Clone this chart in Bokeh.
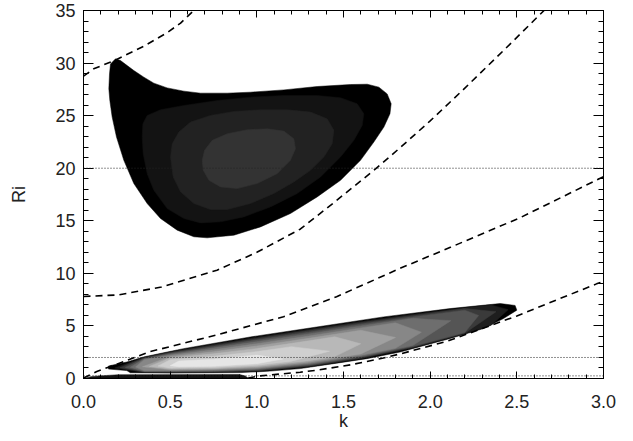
from bokeh.plotting import figure
from bokeh.models import Range1d, LinearAxis, SingleIntervalTicker, NumeralTickFormatter, Span
from bokeh.embed import file_html
from bokeh.resources import INLINE

# ---------------- data ----------------
K_RANGE = [0.0, 3.0]
RI_RANGE = [0.0, 35.0]

# dashed curves (k, Ri)
CURVE_A_K = [0.0, 0.059, 0.185, 0.348, 0.483, 0.56, 0.636, 0.70]
CURVE_A_RI = [28.75, 29.45, 30.3, 31.6, 32.9, 33.8, 35.0, 36.2]
CURVE_B_K = [0.0, 0.2, 0.45, 0.77, 1.0, 1.25, 1.45, 1.69, 1.83, 2.0, 2.18, 2.43, 2.62, 2.7]
CURVE_B_RI = [7.8, 7.95, 8.7, 10.3, 12.0, 14.2, 16.8, 20.0, 22.0, 24.5, 27.3, 31.3, 34.4, 35.7]
CURVE_C_K = [0.0, 0.077, 0.385, 0.77, 1.154, 1.46, 1.83, 2.12, 2.52, 3.0]
CURVE_C_RI = [0.05, 0.66, 2.56, 4.15, 5.88, 7.78, 10.5, 12.5, 15.3, 19.2]
CURVE_D_K = [0.95, 1.02, 1.25, 1.35, 1.54, 1.73, 1.83, 2.1, 2.5, 2.96, 3.0]
CURVE_D_RI = [0.05, 0.25, 0.6, 0.8, 1.3, 1.95, 2.35, 3.55, 5.95, 9.0, 9.25]

# dotted reference levels of Ri
DOTTED_RI = [20.0, 2.0, 0.25]

# upper island: filled contour levels, outer to inner
UPPER_COLORS = ["#000000", "#131313", "#222222", "#333333"]
UPPER_LEVELS = [
    [(0.1847, 30.40), (0.2135, 30.24), (0.252, 29.76), (0.2904, 29.29), (0.3481, 28.66),
     (0.4058, 28.09), (0.4828, 27.64), (0.579, 27.33), (0.675, 27.14), (0.829, 27.14),
     (0.9636, 27.23), (1.156, 27.45), (1.348, 27.77), (1.541, 27.96), (1.637, 27.99),
     (1.704, 27.71), (1.752, 27.07), (1.775, 26.13), (1.768, 25.18), (1.733, 23.91),
     (1.675, 22.49), (1.598, 20.75), (1.483, 18.85), (1.348, 17.27), (1.194, 15.69),
     (1.021, 14.42), (0.8675, 13.63), (0.7136, 13.38), (0.6367, 13.48), (0.5405, 14.11),
     (0.4443, 15.22), (0.3674, 16.64), (0.2904, 18.54), (0.2327, 20.75), (0.1904, 22.96),
     (0.1654, 24.86), (0.1519, 26.44), (0.1462, 27.55), (0.150, 28.97), (0.1558, 29.92)],
    [(0.3385, 22.96), (0.3424, 24.23), (0.3674, 25.02), (0.4443, 25.56), (0.579, 25.97),
     (0.7713, 26.44), (0.9636, 26.76), (1.156, 26.92), (1.348, 26.92), (1.483, 26.70),
     (1.579, 26.13), (1.6176, 25.18), (1.608, 24.07), (1.560, 22.65), (1.483, 21.07),
     (1.3676, 19.17), (1.233, 17.59), (1.079, 16.32), (0.9252, 15.37), (0.7905, 14.90),
     (0.675, 14.80), (0.579, 15.22), (0.4828, 16.16), (0.4058, 17.90), (0.3674, 19.48),
     (0.3443, 21.38)],
    [(0.502, 21.07), (0.5116, 22.33), (0.5501, 23.44), (0.6174, 24.39), (0.7328, 25.02),
     (0.8675, 25.40), (1.021, 25.56), (1.175, 25.56), (1.31, 25.34), (1.406, 24.70),
     (1.4445, 23.60), (1.435, 22.33), (1.387, 21.07), (1.31, 19.80), (1.2137, 18.69),
     (1.098, 17.59), (0.9636, 16.64), (0.829, 16.07), (0.7328, 16.07), (0.6367, 16.64),
     (0.5597, 17.75), (0.5174, 19.17)],
    [(0.6848, 20.75), (0.6982, 21.70), (0.7425, 22.65), (0.829, 23.28), (0.9444, 23.66),
     (1.060, 23.75), (1.156, 23.53), (1.2137, 22.81), (1.2233, 21.86), (1.194, 20.75),
     (1.1175, 19.48), (1.002, 18.54), (0.8867, 18.06), (0.7905, 18.22), (0.7232, 18.85),
     (0.6905, 19.80)],
]

# lower band: filled contour levels, outer to inner
LOWER_COLORS = ["#000000", "#1e1e1e", "#3a3a3a", "#555555", "#6e6e6e", "#878787",
                "#a0a0a0", "#b8b8b8", "#cfcfcf", "#e6e6e6"]
LOWER_LEVELS = [
    [(0.144, 1.19), (0.25, 1.57), (0.346, 2.05), (0.577, 2.84), (0.962, 3.95), (1.346, 4.9),
     (1.731, 5.86), (2.115, 6.65), (2.404, 7.13), (2.49, 6.95), (2.5, 6.5), (2.423, 5.7),
     (2.308, 4.75), (2.115, 3.8), (1.827, 2.52), (1.635, 1.89), (1.442, 1.41), (1.25, 0.94),
     (1.058, 0.68), (0.904, 0.56), (0.5, 0.52), (0.27, 0.55), (0.25, 0.75), (0.144, 0.9)],
    [(0.18, 1.0), (0.35, 2.01), (0.5, 2.54), (0.75, 3.25), (1.0, 3.93), (1.3, 4.68), (1.6, 5.43),
     (1.9, 6.1), (2.2, 6.73), (2.35, 7.0), (2.45, 6.55), (2.35, 5.05), (2.2, 4.26), (1.9, 2.91),
     (1.6, 1.87), (1.3, 1.12), (1.0, 0.69), (0.75, 0.59), (0.5, 0.56), (0.35, 0.58)],
    [(0.21, 1.02), (0.35, 1.97), (0.5, 2.47), (0.75, 3.15), (1.0, 3.81), (1.3, 4.56), (1.6, 5.31),
     (1.9, 5.99), (2.2, 6.65), (2.38, 6.35), (2.2, 4.31), (1.9, 2.98),
     (1.6, 1.94), (1.3, 1.18), (1.0, 0.74), (0.75, 0.63), (0.5, 0.6), (0.35, 0.62)],
    [(0.24, 1.05), (0.35, 1.91), (0.5, 2.39), (0.75, 3.03), (1.0, 3.67), (1.3, 4.41), (1.6, 5.17),
     (1.9, 5.86), (2.2, 6.5), (2.28, 6.0), (2.2, 4.38), (1.9, 3.05), (1.6, 2.02), (1.3, 1.26),
     (1.0, 0.8), (0.75, 0.68), (0.5, 0.64), (0.35, 0.65)],
    [(0.27, 1.07), (0.35, 1.85), (0.5, 2.3), (0.75, 2.89), (1.0, 3.5), (1.3, 4.24), (1.6, 5.0),
     (1.9, 5.72), (2.12, 5.5), (1.9, 3.14), (1.6, 2.11), (1.3, 1.35),
     (1.0, 0.87), (0.75, 0.73), (0.5, 0.7), (0.35, 0.7)],
    [(0.3, 1.1), (0.35, 1.79), (0.5, 2.2), (0.75, 2.73), (1.0, 3.31), (1.3, 4.04), (1.6, 4.81),
     (1.8, 5.3), (1.95, 4.4), (1.8, 2.87), (1.6, 2.22), (1.3, 1.45), (1.0, 0.95), (0.75, 0.8),
     (0.5, 0.76), (0.35, 0.75)],
    [(0.34, 1.12), (0.5, 2.08), (0.75, 2.55), (1.0, 3.09), (1.3, 3.82), (1.6, 4.59),
     (1.8, 3.9), (1.6, 2.34), (1.3, 1.57), (1.0, 1.04), (0.75, 0.87), (0.5, 0.83)],
    [(0.38, 1.15), (0.5, 1.95), (0.75, 2.35), (1.0, 2.85), (1.3, 3.58), (1.45, 3.97),
     (1.6, 3.3), (1.45, 2.09), (1.3, 1.7), (1.0, 1.15), (0.75, 0.95), (0.5, 0.91)],
    [(0.43, 1.18), (0.5, 1.79), (0.75, 2.11), (1.0, 2.56), (1.2, 3.03), (1.42, 2.6),
     (1.2, 1.64), (1.0, 1.27), (0.75, 1.05), (0.5, 1.0)],
    [(0.5, 1.22), (0.55, 1.66), (0.75, 1.83), (1.0, 2.23), (1.15, 1.85),
     (1.0, 1.41), (0.75, 1.16), (0.55, 1.12)],
]

# thin dark sliver along the bottom axis
SLIVER = [(0.0, 0.0), (0.05, 0.2), (0.2, 0.36), (0.9, 0.38), (0.93, 0.25), (0.955, 0.0)]

X_LABEL = "k"
Y_LABEL = "Ri"

# ---------------- figure ----------------
FONT = "Liberation Sans"

p = figure(width=625, height=433, output_backend="svg", toolbar_location=None,
           x_range=Range1d(*K_RANGE), y_range=Range1d(*RI_RANGE),
           min_border_left=83, min_border_right=22, min_border_top=10, min_border_bottom=54)
p.xgrid.visible = False
p.ygrid.visible = False
p.background_fill_color = "white"
p.border_fill_color = "white"
p.outline_line_color = "black"
p.outline_line_width = 1


def split(poly):
    return [pt[0] for pt in poly], [pt[1] for pt in poly]


for lvl, col in zip(UPPER_LEVELS, UPPER_COLORS):
    xs, ys = split(lvl)
    p.patch(xs, ys, fill_color=col, line_color=col, line_width=0.5)

xs, ys = split(SLIVER)
p.patch(xs, ys, fill_color="#111111", line_color="#111111", line_width=0.5)

for lvl, col in zip(LOWER_LEVELS, LOWER_COLORS):
    xs, ys = split(lvl)
    p.patch(xs, ys, fill_color=col, line_color=col, line_width=0.5)

for r in DOTTED_RI:
    p.add_layout(Span(location=r, dimension="width", line_color="#222222",
                      line_width=1, line_dash="1 2"))

for ks, rs in [(CURVE_A_K, CURVE_A_RI), (CURVE_B_K, CURVE_B_RI),
               (CURVE_C_K, CURVE_C_RI), (CURVE_D_K, CURVE_D_RI)]:
    p.line(ks, rs, line_color="black", line_width=1.6, line_dash="7 5")

# ---------------- axes ----------------
p.xaxis.ticker = SingleIntervalTicker(interval=0.5, num_minor_ticks=5)
p.yaxis.ticker = SingleIntervalTicker(interval=5, num_minor_ticks=5)
p.xaxis.formatter = NumeralTickFormatter(format="0.0")
p.xaxis.axis_label = X_LABEL
p.yaxis.axis_label = Y_LABEL

for ax, maj, mnr in [(p.xaxis[0], 7, 4), (p.yaxis[0], 10, 5)]:
    ax.major_tick_in = maj
    ax.major_tick_out = 0
    ax.minor_tick_in = mnr
    ax.minor_tick_out = 0
    ax.axis_line_color = "black"
    ax.major_tick_line_color = "black"
    ax.minor_tick_line_color = "black"
    ax.major_label_text_font = FONT
    ax.major_label_text_font_size = "18px"
    ax.major_label_text_color = "#222222"
    ax.axis_label_text_font = FONT
    ax.axis_label_text_font_size = "18px"
    ax.axis_label_text_font_style = "normal"
    ax.axis_label_text_color = "#222222"

p.xaxis.major_label_standoff = 16
p.xaxis.axis_label_standoff = 0
p.yaxis.major_label_standoff = 8
p.yaxis.axis_label_standoff = 23

top = LinearAxis(ticker=SingleIntervalTicker(interval=0.5, num_minor_ticks=5),
                 major_label_text_font_size="1px", major_label_text_color=None,
                 major_label_text_alpha=0, major_label_standoff=0,
                 major_tick_in=7, major_tick_out=0, minor_tick_in=4, minor_tick_out=0)
right = LinearAxis(ticker=SingleIntervalTicker(interval=5, num_minor_ticks=5),
                   major_label_text_font_size="1px", major_label_text_color=None,
                   major_label_text_alpha=0, major_label_standoff=0,
                   major_tick_in=10, major_tick_out=0, minor_tick_in=5, minor_tick_out=0)
p.add_layout(top, "above")
p.add_layout(right, "right")

open("out.html", "w").write(file_html(p, INLINE))
